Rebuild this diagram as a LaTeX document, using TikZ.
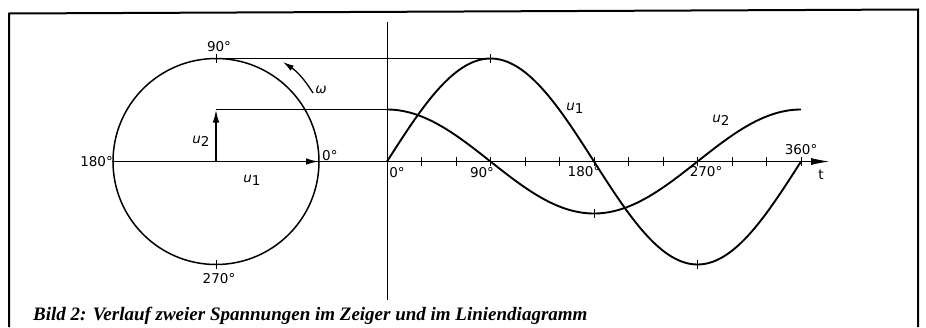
\documentclass[tikz,border=0pt]{standalone}
\usepackage{fontspec}
\setmainfont{Liberation Serif}
\newfontfamily\lblfont{DejaVu Sans}
\usetikzlibrary{arrows.meta}
\newcommand\usub[1]{\textit{u}\raisebox{-0.45ex}{#1}}
\begin{document}
\begin{tikzpicture}[x=1pt,y=-1pt,
  lbl/.style={font=\lblfont\fontsize{13.5}{15}\selectfont, inner sep=0pt},
  thinline/.style={line width=0.8pt},
  curve/.style={line width=1.9pt},
  vec/.style={line width=1.7pt, -{Latex[length=13pt,width=6.5pt]}},
  frameline/.style={line width=2pt},
  tickmark/.style={line width=0.8pt}]
\useasboundingbox (0,0) rectangle (926,327);
% frame
\draw[frameline] (9,327) -- (9,13.5) -- (918,9.5) -- (918,327);
% phasor circle
\coordinate (O) at (216,161.5);
\draw[line width=1.5pt] (O) circle[radius=103];
\coordinate (A180) at (112,161.5);
\coordinate (A0) at (319,161.5);
\coordinate (tEnd) at (829,161.5);
\draw[thinline, -{Latex[length=18pt,width=7pt]}] (A180) -- (tEnd);
% circle ticks
\draw[tickmark] (216,54) -- (216,63);
\draw[tickmark] (216,260) -- (216,269);
% vectors
\coordinate (U2tip) at (216,109.5);
\draw[vec] (O) -- (A0);
\draw[vec] (O) -- (U2tip);
% omega arrow
\coordinate (W1) at (313,93);
\coordinate (W2) at (283,62);
\draw[line width=1.3pt, -{Latex[length=11pt,width=6pt]}] (W1) to[bend right=12] (W2);
% vertical axis of line diagram
\coordinate (G0) at (387,161.5);
\coordinate (Vtop) at (387,22);
\coordinate (Vbot) at (387,300);
\draw[thinline] (Vtop) -- (Vbot);
% guide lines
\coordinate (C90) at (216,58.5);
\coordinate (P90) at (490.5,58.5);
\coordinate (G2) at (387,109.5);
\draw[thinline] (C90) -- (P90);
\draw[thinline] (U2tip) -- (G2);
% axis ticks
\foreach \i in {1,...,12} \draw[tickmark] ({387+34.5*\i},157) -- ++(0,9);
% curves
\draw[curve] plot[domain=0:360,samples=145,smooth] ({387+1.15*\x},{161.5-103*sin(\x)});
\draw[curve] plot[domain=0:360,samples=145,smooth] ({387+1.15*\x},{161.5-52*cos(\x)});
% extremum ticks
\draw[tickmark] (490.5,54) -- (490.5,63);
\draw[tickmark] (697.5,260) -- (697.5,269);
\draw[tickmark] (594,209) -- (594,218);
% labels
\node[lbl] (l90) at (219,47) {90°};
\node[lbl, anchor=east] (l180) at (113,162) {180°};
\node[lbl, anchor=west] (l0) at (322,156) {0°};
\node[lbl] (l270) at (219,279) {270°};
\node[lbl] (lu2) at (201,141) {\usub{2}};
\node[lbl] (lu1) at (252,180) {\usub{1}};
\node[lbl] (lw) at (321,90) {\textit{ω}};
\node[lbl] (g0) at (397,173) {0°};
\node[lbl] (g90) at (482,173) {90°};
\node[lbl] (g180) at (584,172) {180°};
\node[lbl] (g270) at (706,172) {270°};
\node[lbl] (g360) at (801,150) {360°};
\node[lbl] (gt) at (821,175) {t};
\node[lbl] (gu1) at (575,108) {\usub{1}};
\node[lbl] (gu2) at (721,120) {\usub{2}};
% caption
\node[anchor=base west, inner sep=0pt, font=\fontsize{19}{22}\selectfont\bfseries\itshape] (cap) at (33,320) {Bild 2: Verlauf zweier Spannungen im Zeiger und im Liniendiagramm};
\end{tikzpicture}
\end{document}
